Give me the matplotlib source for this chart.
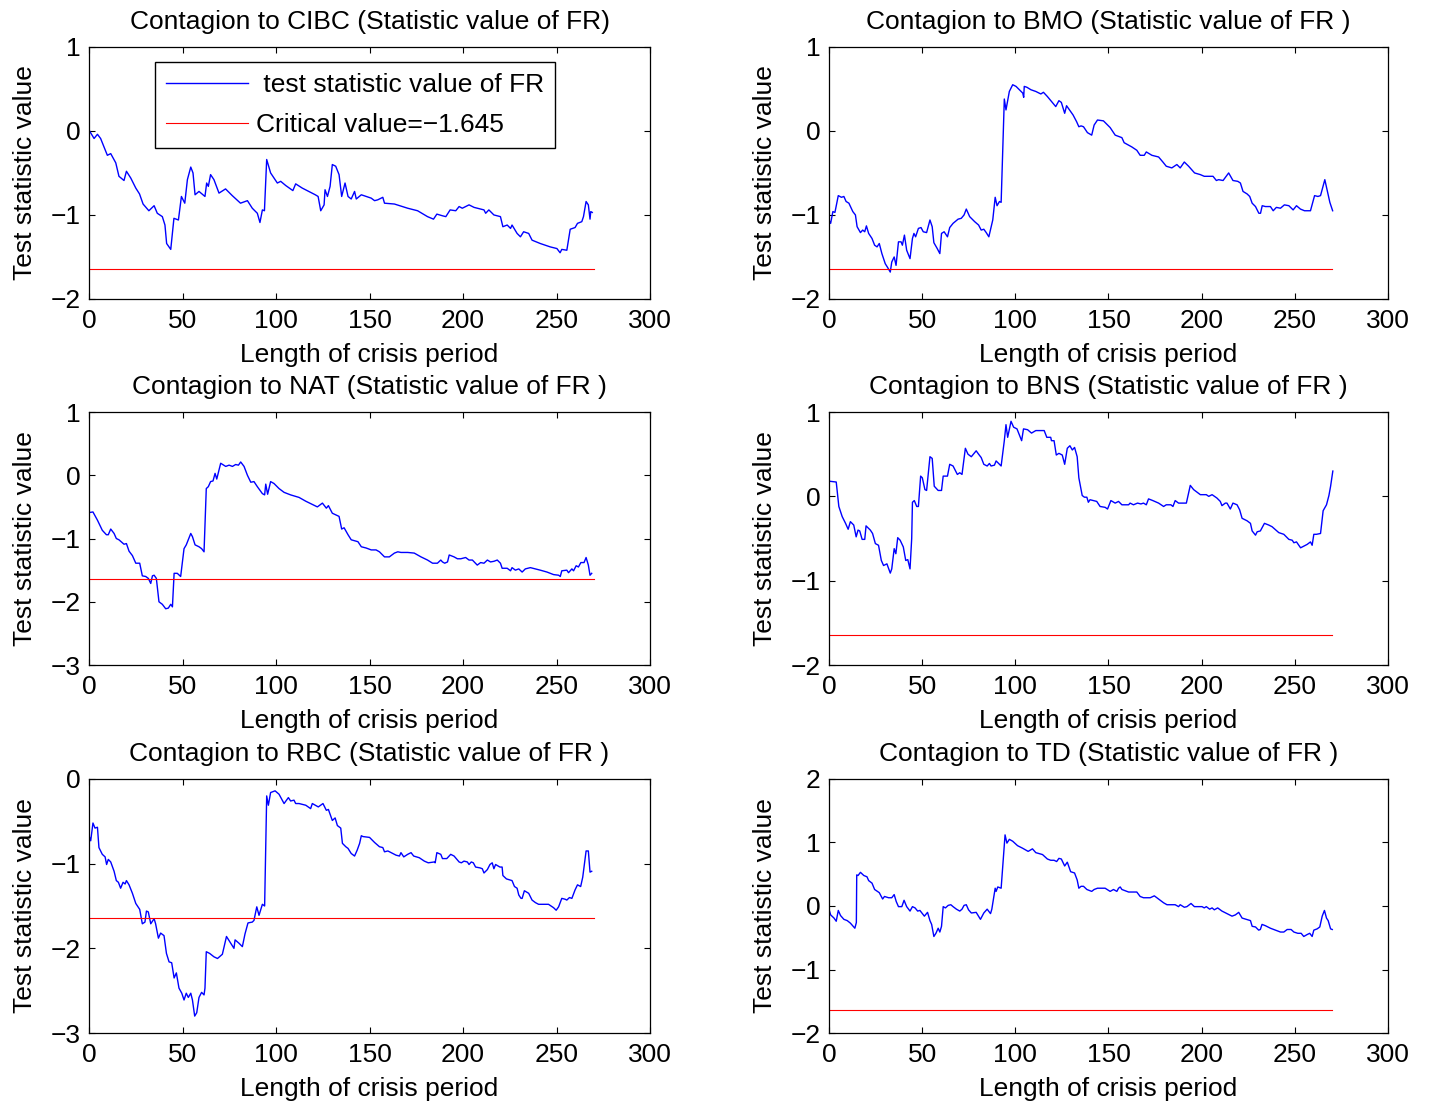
import matplotlib
matplotlib.use('Agg')
import matplotlib.pyplot as plt

plt.rcParams['font.family'] = ['Liberation Sans', 'DejaVu Sans']

# readings: crisis-period length and test statistic per bank
cibc_x = [0, 2.7, 4.5, 6.2, 9.8, 11.6, 14.3, 16, 18.7, 20, 22.3, 25, 27, 28.9, 32, 34.8, 36.5, 39.2, 40.6, 41.5,
          43.7, 45.4, 47.8, 49.4, 51.2, 52.6, 54.4, 55.6, 56.7, 58.8, 62, 62.9, 63.8, 65, 66.8, 69.5, 73, 76.6, 81, 84.7,
          87.3, 90, 91.4, 92.7, 93.8, 95, 97.1, 100.7, 102.5, 105.2, 109, 110.5, 114, 121, 122.5, 123.9, 125.7, 126.2, 127.5, 128.9,
          130.1, 131.9, 133.7, 135.1, 136.9, 138.5, 140.2, 142, 142.9, 145.6, 150.9, 152.7, 154.4, 157.1, 158, 163.3, 170.4, 175.7, 181, 184.2,
          186, 189, 190.8, 193.1, 196.1, 197.9, 199.6, 203.2, 205.9, 211.2, 212.1, 213.8, 216.5, 220, 221.3, 223.6, 225.4, 226.2, 228.9, 230.7,
          232.4, 235.1, 236.9, 241.3, 246.6, 250.2, 251.9, 252.8, 255.5, 257.3, 259.9, 261.2, 263.5, 264.4, 265.8, 267, 267.9, 268.3, 269.1]
cibc_y = [0.01, -0.09, -0.04, -0.09, -0.29, -0.27, -0.38, -0.54, -0.59, -0.48, -0.56, -0.68, -0.75, -0.87, -0.95, -0.89, -0.98, -1.02, -1.12, -1.34,
          -1.41, -1.04, -1.06, -0.78, -0.86, -0.58, -0.43, -0.50, -0.76, -0.72, -0.78, -0.62, -0.66, -0.52, -0.58, -0.74, -0.69, -0.77, -0.86, -0.83,
          -0.92, -0.98, -1.09, -0.94, -0.95, -0.34, -0.50, -0.62, -0.60, -0.65, -0.71, -0.63, -0.68, -0.76, -0.78, -0.95, -0.88, -0.70, -0.78, -0.66,
          -0.40, -0.42, -0.52, -0.78, -0.62, -0.78, -0.81, -0.72, -0.81, -0.76, -0.80, -0.83, -0.82, -0.79, -0.86, -0.87, -0.92, -0.95, -1.02, -1.05,
          -0.99, -1.01, -1.02, -0.94, -0.95, -0.90, -0.92, -0.88, -0.91, -0.94, -0.98, -0.94, -1.00, -1.02, -1.14, -1.12, -1.16, -1.12, -1.22, -1.26,
          -1.20, -1.22, -1.30, -1.34, -1.38, -1.40, -1.45, -1.41, -1.42, -1.17, -1.15, -1.10, -1.08, -1.02, -0.84, -0.88, -1.05, -0.96, -0.97]

bmo_x = [0, 0.9, 2.1, 3.2, 5, 6.7, 8, 9.2, 10.7, 12.8, 14.2, 15.1, 16.9, 18.1, 19.2, 20.1, 21.3, 23.1, 24.5, 25.8,
         27, 28.4, 30.2, 31.6, 32.9, 33.7, 35, 36, 37.3, 38.7, 39.4, 40.5, 41.7, 43.5, 44.8, 45.6, 46.5, 48, 49.4, 50.6,
         52.4, 54.2, 55.4, 56.3, 58.1, 59.5, 60.4, 61.8, 63.6, 64.8, 66.6, 69.3, 71, 72.5, 73.7, 75.5, 78.2, 80.3, 81.7, 83.1,
         84.4, 85.8, 87.9, 89.2, 90.2, 91.5, 92.4, 94.1, 95, 96.8, 98.6, 100.4, 104, 104.5, 104.8, 106.2, 108.4, 111, 113.7, 115.1,
         117.2, 121.7, 123.4, 124.7, 126.5, 127.5, 129.7, 131, 132.9, 134.1, 135.3, 136.6, 138.7, 141, 142.3, 144.1, 147.3, 150.9, 153.6, 157.2,
         158.4, 162.5, 165.2, 167, 169.2, 170.3, 173.3, 176.9, 179.2, 181, 184, 186.7, 188.5, 190.7, 193, 196.2, 199.3, 201.4, 206.1, 207.9,
         209.1, 211.5, 214.5, 216.8, 219.4, 220.8, 222.2, 224.4, 225.8, 227.1, 228.9, 230.7, 231.6, 232.5, 234.2, 236.9, 238.4, 240.1, 242.3, 244.4,
         246.8, 249.1, 250.9, 253, 255.2, 258.4, 260.6, 262.4, 263.8, 266.1, 267.7, 268.8, 270.3]
bmo_y = [-1.06, -1.10, -0.96, -0.97, -0.77, -0.79, -0.78, -0.84, -0.86, -0.96, -1.00, -1.14, -1.21, -1.18, -1.20, -1.13, -1.22, -1.28, -1.36, -1.38,
         -1.34, -1.46, -1.58, -1.63, -1.68, -1.56, -1.50, -1.60, -1.32, -1.32, -1.36, -1.24, -1.42, -1.52, -1.28, -1.22, -1.26, -1.16, -1.15, -1.20,
         -1.21, -1.06, -1.14, -1.33, -1.40, -1.46, -1.22, -1.20, -1.26, -1.15, -1.10, -1.05, -1.04, -1.00, -0.93, -1.02, -1.08, -1.12, -1.18, -1.17,
         -1.21, -1.26, -1.06, -0.79, -0.89, -0.84, -0.85, 0.38, 0.25, 0.47, 0.55, 0.53, 0.45, 0.40, 0.53, 0.52, 0.49, 0.47, 0.44, 0.46,
         0.41, 0.29, 0.36, 0.34, 0.21, 0.30, 0.23, 0.19, 0.11, 0.05, 0.06, 0.05, -0.02, -0.05, 0.07, 0.13, 0.12, 0.04, -0.05, -0.08,
         -0.14, -0.19, -0.23, -0.29, -0.29, -0.25, -0.29, -0.31, -0.37, -0.42, -0.44, -0.40, -0.44, -0.37, -0.42, -0.50, -0.52, -0.54, -0.54, -0.59,
         -0.58, -0.59, -0.50, -0.59, -0.60, -0.62, -0.72, -0.75, -0.78, -0.86, -0.90, -0.98, -0.98, -0.89, -0.90, -0.90, -0.95, -0.91, -0.92, -0.88,
         -0.89, -0.94, -0.89, -0.93, -0.95, -0.95, -0.77, -0.78, -0.77, -0.58, -0.74, -0.85, -0.95]

nat_x = [0, 2.1, 4.5, 7.1, 9.3, 10.3, 11.6, 13.4, 14.6, 16, 17.5, 18.7, 20, 21.4, 23.2, 25, 27.1, 28.5, 30.3, 31.7,
         33, 33.9, 34.8, 36, 37.4, 39.2, 41, 42.4, 43.7, 44.6, 45.5, 47.2, 49, 50.8, 52, 54.4, 55.3, 56.7, 58.8, 60.2,
         61.5, 62.7, 63.8, 65, 66.3, 67.4, 68.3, 70.4, 73.1, 74.9, 76.7, 78.4, 79.9, 81.1, 82.9, 84.7, 86.5, 88.2, 90, 92.7,
         93.9, 94.5, 95.5, 97.1, 98.9, 101.6, 104.3, 107.8, 112.3, 115.9, 119.4, 122.1, 124.8, 126.9, 128, 130.1, 133.7, 135.1, 136.4, 138.5,
         140.2, 143.8, 145.6, 148.2, 150.9, 153.5, 155.3, 158, 160.6, 163.3, 165.1, 166.8, 170.4, 173.9, 177.5, 181, 183.7, 186.3, 188.1, 189,
         190.2, 191.7, 192.6, 195.2, 197, 198.8, 201.4, 203.2, 205, 207.6, 209.4, 211.2, 213, 214.7, 216.5, 218.3, 220, 220.9, 223.6, 225.4,
         226.2, 228, 229.8, 231.6, 233.3, 236, 238.7, 241.3, 244.9, 248.4, 251.1, 252, 252.8, 255.5, 256.4, 258.2, 259.1, 260.5, 261.7, 263,
         264.7, 265.8, 267, 267.9, 268.8]
nat_y = [-0.59, -0.58, -0.71, -0.87, -0.94, -0.94, -0.85, -0.92, -1.00, -1.02, -1.06, -1.09, -1.08, -1.20, -1.27, -1.39, -1.39, -1.59, -1.60, -1.63,
         -1.71, -1.59, -1.58, -1.63, -2.00, -2.04, -2.11, -2.10, -2.04, -2.08, -1.55, -1.55, -1.60, -1.16, -1.10, -0.92, -0.97, -1.10, -1.13, -1.16,
         -1.21, -0.21, -0.18, -0.10, -0.09, 0.03, -0.06, 0.19, 0.14, 0.16, 0.14, 0.17, 0.16, 0.21, 0.14, 0.00, -0.11, -0.10, -0.18, -0.29,
         -0.31, -0.14, -0.30, -0.10, -0.13, -0.21, -0.27, -0.31, -0.35, -0.41, -0.46, -0.50, -0.44, -0.52, -0.48, -0.60, -0.65, -0.85, -0.83, -0.94,
         -1.02, -1.05, -1.13, -1.15, -1.18, -1.18, -1.21, -1.29, -1.29, -1.23, -1.21, -1.22, -1.22, -1.23, -1.29, -1.34, -1.39, -1.39, -1.34, -1.37,
         -1.39, -1.37, -1.26, -1.29, -1.32, -1.32, -1.30, -1.34, -1.34, -1.42, -1.38, -1.39, -1.34, -1.37, -1.36, -1.34, -1.39, -1.47, -1.47, -1.51,
         -1.46, -1.50, -1.48, -1.53, -1.48, -1.46, -1.48, -1.50, -1.53, -1.57, -1.58, -1.60, -1.51, -1.50, -1.54, -1.48, -1.51, -1.43, -1.45, -1.38,
         -1.38, -1.30, -1.42, -1.58, -1.55]

bns_x = [0, 3.9, 5.3, 7.1, 8.9, 10.3, 11.5, 13.3, 14.6, 15.6, 16.5, 17.8, 19.2, 19.9, 22.2, 23.4, 24.9, 26.6, 28.1, 29.3,
         31.1, 32.9, 33.7, 35, 35.9, 36.9, 38.2, 39.9, 41.2, 42.3, 43.5, 44.4, 44.8, 45.8, 47.1, 48, 49.2, 50.1, 51.5, 52.4,
         54.2, 55.4, 56.5, 58.6, 60.4, 61.3, 63.6, 64.8, 66.6, 68.9, 70.2, 71.4, 73.2, 74.6, 76.4, 79, 80.3, 81.7, 83.1, 84.9,
         86.1, 87, 88.8, 89.7, 92.4, 94.1, 95, 95.9, 97.7, 99.1, 100.9, 103.4, 104.4, 106.6, 108.7, 111, 115.5, 116.9, 119, 119.4,
         120.8, 122, 123.4, 125.2, 126.5, 127.9, 129.3, 130.6, 131.8, 133.2, 134.1, 135.9, 137.1, 138.4, 139.2, 140.1, 141.9, 143.7, 145.5, 148.2,
         149.5, 151.3, 153.6, 155.4, 157.2, 160.8, 161.6, 163.4, 165.6, 167.4, 168.8, 170.3, 171.5, 173.8, 176.9, 179.6, 181, 183.5, 184.6, 185.8,
         187.6, 191.8, 193.9, 195.7, 197.5, 199.3, 202.5, 203.8, 205.6, 208.2, 210, 210.9, 212.7, 213.6, 215.4, 216.8, 219, 220.4, 221.7, 224.4,
         226.2, 227.1, 228.9, 229.8, 231.5, 233.7, 236, 237.8, 241.4, 244.1, 246.8, 248.6, 249.5, 250.9, 253.1, 254.8, 256.6, 258.4, 259.3, 260.2,
         261.6, 263.8, 265.2, 267, 268.3, 269.2, 270.4]
bns_y = [0.18, 0.17, -0.12, -0.24, -0.32, -0.39, -0.30, -0.34, -0.48, -0.40, -0.41, -0.51, -0.51, -0.35, -0.40, -0.44, -0.56, -0.58, -0.76, -0.82,
         -0.80, -0.91, -0.86, -0.62, -0.68, -0.49, -0.52, -0.60, -0.76, -0.75, -0.86, -0.50, -0.07, -0.05, -0.12, -0.12, 0.24, 0.22, 0.08, 0.07,
         0.47, 0.45, 0.12, 0.07, 0.07, 0.24, 0.24, 0.38, 0.36, 0.26, 0.28, 0.26, 0.57, 0.50, 0.47, 0.54, 0.50, 0.46, 0.38, 0.36,
         0.39, 0.36, 0.37, 0.42, 0.36, 0.66, 0.85, 0.70, 0.89, 0.82, 0.80, 0.66, 0.80, 0.79, 0.75, 0.78, 0.78, 0.70, 0.70, 0.66,
         0.66, 0.49, 0.51, 0.49, 0.38, 0.57, 0.60, 0.55, 0.58, 0.47, 0.22, 0.01, -0.01, -0.01, -0.07, -0.04, -0.05, -0.06, -0.12, -0.13,
         -0.15, -0.05, -0.08, -0.06, -0.10, -0.10, -0.08, -0.10, -0.08, -0.09, -0.08, -0.10, -0.03, -0.05, -0.08, -0.12, -0.10, -0.10, -0.12, -0.05,
         -0.08, -0.08, 0.13, 0.08, 0.05, 0.02, 0.02, 0.00, 0.02, -0.02, -0.06, -0.11, -0.08, -0.08, -0.15, -0.08, -0.10, -0.16, -0.26, -0.29,
         -0.32, -0.41, -0.46, -0.42, -0.41, -0.32, -0.34, -0.36, -0.43, -0.45, -0.51, -0.52, -0.55, -0.54, -0.61, -0.59, -0.57, -0.54, -0.58, -0.45,
         -0.45, -0.44, -0.17, -0.10, 0.01, 0.12, 0.30]

rbc_x = [0, 0.9, 2.1, 3.2, 4.5, 5.3, 7.1, 8.6, 9.4, 10.3, 11.6, 13.4, 14.6, 15.7, 16.9, 18.2, 19.3, 20, 21.4, 23.2,
         25, 27.1, 28.5, 29.9, 30.7, 31.7, 33, 34.8, 35.6, 37.1, 38.3, 40.1, 41.4, 42.8, 44.2, 45.5, 46.7, 48.1, 49.6, 50.8,
         52, 53.1, 54.4, 55.3, 56.5, 57.6, 58.8, 60.2, 61.5, 62, 62.7, 64.5, 66.8, 68.7, 71.3, 73.5, 75.2, 77.5, 78.1, 80.2,
         82, 83.4, 85, 87.3, 88.2, 89.7, 90.9, 92.7, 93.9, 95, 95.9, 97.1, 99.5, 101.6, 104.3, 106.6, 107.8, 109.6, 110.5, 112.3,
         115.9, 118.5, 119.4, 122.6, 125.1, 126.9, 128, 130.1, 131.6, 132.8, 134.6, 135.5, 137.3, 138.5, 140.2, 142, 143.4, 144.7, 145.6, 146.5,
         150, 152.7, 155.3, 157.1, 158, 159.8, 162.4, 164.2, 166, 166.8, 168.3, 170.4, 172.2, 173.6, 176.6, 179.3, 181.4, 184.6, 185.1, 186,
         188.1, 189, 191.3, 193.4, 195.2, 197.9, 199.1, 200.5, 202.3, 203.2, 204.4, 205.5, 206.7, 209.1, 210.3, 211.2, 213, 214.4, 215.6, 216.5,
         217.4, 219.7, 220.9, 221.3, 223.2, 226.2, 227.5, 228.9, 229.8, 231, 231.6, 232.8, 235.1, 236.9, 238.7, 240.4, 245.7, 248.4, 249.8, 251.1,
         252.8, 254.6, 255.5, 256.9, 258.2, 259.9, 261.2, 262.9, 264, 265.8, 267, 267.9, 268.8]
rbc_y = [-0.67, -0.73, -0.52, -0.58, -0.57, -0.81, -0.89, -0.92, -1.01, -0.95, -0.98, -1.09, -1.20, -1.22, -1.29, -1.22, -1.24, -1.20, -1.25, -1.35,
         -1.47, -1.54, -1.71, -1.69, -1.56, -1.57, -1.71, -1.65, -1.71, -1.88, -1.82, -1.85, -2.06, -2.16, -2.17, -2.35, -2.29, -2.47, -2.53, -2.61,
         -2.53, -2.58, -2.53, -2.61, -2.80, -2.76, -2.58, -2.52, -2.55, -2.47, -2.04, -2.06, -2.10, -2.12, -2.07, -1.86, -1.92, -2.00, -1.90, -1.94,
         -1.98, -1.83, -1.70, -1.69, -1.67, -1.51, -1.61, -1.48, -1.50, -0.20, -0.31, -0.16, -0.14, -0.18, -0.29, -0.22, -0.26, -0.25, -0.29, -0.29,
         -0.31, -0.35, -0.29, -0.33, -0.29, -0.37, -0.36, -0.49, -0.46, -0.55, -0.58, -0.76, -0.80, -0.82, -0.88, -0.91, -0.84, -0.76, -0.67, -0.68,
         -0.69, -0.75, -0.80, -0.81, -0.86, -0.85, -0.88, -0.90, -0.91, -0.87, -0.92, -0.89, -0.87, -0.91, -0.93, -0.97, -0.99, -0.98, -0.99, -0.87,
         -0.89, -0.94, -0.94, -0.89, -0.91, -0.98, -0.99, -0.97, -0.98, -1.01, -0.98, -0.99, -1.04, -1.05, -1.06, -1.11, -1.07, -1.01, -0.99, -1.06,
         -1.01, -1.04, -1.04, -1.14, -1.18, -1.20, -1.27, -1.29, -1.37, -1.41, -1.41, -1.32, -1.35, -1.43, -1.46, -1.48, -1.48, -1.52, -1.55, -1.51,
         -1.41, -1.42, -1.43, -1.40, -1.41, -1.31, -1.25, -1.27, -1.16, -0.85, -0.85, -1.10, -1.09]

td_x = [0, 0.9, 2.7, 3.9, 5, 6.2, 8, 9.8, 11.5, 13.9, 14.7, 14.9, 15.6, 16.9, 18.7, 20.4, 21.3, 23.1, 24.5, 27,
        28.8, 29.8, 32, 33.7, 35, 36.1, 37.3, 39.1, 40.3, 41.7, 43.5, 44.8, 46.2, 47.6, 48.8, 51.2, 52.9, 54.2, 55.1, 56.3,
        57.4, 58.6, 59.5, 60.4, 61.3, 62.5, 64, 65.4, 66.6, 68.4, 70.2, 71.4, 72.5, 73.7, 74.9, 76.4, 79, 81.3, 83.1, 84.9,
        86.7, 87.4, 89.2, 89.7, 90.6, 92.4, 93.8, 94.5, 95.5, 96.8, 98.6, 101.2, 103.9, 106.9, 109.2, 111, 114.6, 117.2, 119, 120.8,
        122.2, 123.4, 124.7, 126.5, 127.9, 129.7, 131.8, 133.2, 134.1, 135.3, 136.6, 138.4, 141, 142.3, 144.1, 148.2, 150.9, 152.7, 154.5, 155.4,
        156.3, 157.2, 160.8, 165.2, 167, 168.8, 172.4, 174.6, 176.9, 179.6, 181.4, 185.8, 187.6, 188.5, 190.7, 192.1, 194.3, 196.1, 200.2, 201.4,
        202.5, 204.3, 205.6, 206.8, 208.6, 210.9, 213.6, 216.3, 218.1, 219.9, 221.7, 224, 226.2, 227.1, 228.9, 230.6, 231.5, 232.4, 234.2, 236.9,
        239.6, 242.3, 244.1, 245.9, 248, 249.5, 251.6, 253.4, 254.8, 256.6, 258, 259.3, 260.2, 262, 263.4, 264.7, 265.9, 267, 267.9, 269.2,
        270.1]
td_y = [-0.05, -0.14, -0.19, -0.24, -0.07, -0.15, -0.21, -0.23, -0.27, -0.35, -0.26, 0.49, 0.48, 0.53, 0.48, 0.46, 0.40, 0.36, 0.26, 0.21,
        0.11, 0.15, 0.13, 0.13, 0.18, 0.07, -0.01, -0.01, 0.09, -0.01, -0.08, -0.01, -0.03, -0.08, -0.07, -0.16, -0.10, -0.23, -0.29, -0.48,
        -0.43, -0.35, -0.41, -0.32, -0.01, -0.03, 0.01, 0.02, -0.01, -0.05, -0.08, -0.05, 0.01, 0.02, -0.06, -0.11, -0.10, -0.21, -0.11, -0.05,
        -0.12, -0.05, 0.28, 0.23, 0.30, 0.28, 0.83, 1.12, 0.99, 1.05, 1.02, 0.95, 0.91, 0.86, 0.90, 0.84, 0.81, 0.74, 0.72, 0.72,
        0.70, 0.75, 0.74, 0.63, 0.69, 0.54, 0.52, 0.41, 0.28, 0.31, 0.31, 0.26, 0.23, 0.26, 0.28, 0.28, 0.23, 0.26, 0.23, 0.28,
        0.30, 0.26, 0.22, 0.22, 0.15, 0.13, 0.13, 0.16, 0.11, 0.05, 0.02, 0.02, -0.01, 0.02, -0.02, -0.01, 0.04, -0.01, -0.01, -0.03,
        -0.01, -0.05, -0.03, -0.06, -0.03, -0.08, -0.12, -0.16, -0.14, -0.10, -0.19, -0.21, -0.23, -0.32, -0.33, -0.38, -0.37, -0.29, -0.31, -0.35,
        -0.38, -0.41, -0.41, -0.37, -0.37, -0.41, -0.43, -0.43, -0.48, -0.45, -0.43, -0.48, -0.38, -0.36, -0.33, -0.16, -0.07, -0.19, -0.23, -0.36,
        -0.37]

banks = ['CIBC', 'BMO', 'NAT', 'BNS', 'RBC', 'TD']
series = [(cibc_x, cibc_y), (bmo_x, bmo_y), (nat_x, nat_y), (bns_x, bns_y), (rbc_x, rbc_y), (td_x, td_y)]
ylims = [(-2, 1), (-2, 1), (-3, 1), (-2, 1), (-3, 0), (-2, 2)]
critical = -1.645
crit_x = [0, 270]

FS = 19

fig = plt.figure(figsize=(14.29, 11.04), dpi=100)

# axes boxes in figure fractions (left, bottom, width, height)
col_left = [0.0623, 0.5801]
col_w = [0.3926, 0.3912]
row_bottom = [0.7292, 0.3976, 0.0643]
row_h = [0.2283, 0.2292, 0.2301]

for i, bank in enumerate(banks):
    r, c = divmod(i, 2)
    ax = fig.add_axes([col_left[c], row_bottom[r], col_w[c], row_h[r]])
    x, y = series[i]
    ax.plot(x, y, color='b', lw=1.0, label=' test statistic value of FR')
    ax.plot(crit_x, [critical, critical], color='r', lw=0.8,
            label='Critical value=\u22121.645')

    ax.set_xlim(0, 300)
    ax.set_xticks(range(0, 301, 50))
    lo, hi = ylims[i]
    ax.set_ylim(lo, hi)
    ax.set_yticks(range(lo, hi + 1))

    ax.tick_params(direction='in', top=True, right=True, length=4,
                   width=0.8, labelsize=FS)
    ax.tick_params(axis='x', pad=7.5)
    ax.tick_params(axis='y', pad=6)
    for s in ax.spines.values():
        s.set_linewidth(0.9)

    if i == 0:
        ax.set_title('Contagion to CIBC (Statistic value of FR)', fontsize=FS, pad=13)
        ax.legend(loc='upper left', bbox_to_anchor=(0.1176, 0.94), fontsize=FS,
                  frameon=True, fancybox=False, edgecolor='black', framealpha=1,
                  handlelength=3.1, borderaxespad=0, borderpad=0.42,
                  labelspacing=0.6, handletextpad=0.3)
    else:
        ax.set_title('Contagion to %s (Statistic value of FR )' % bank, fontsize=FS, pad=13)
    ax.set_xlabel('Length of crisis period', fontsize=FS, labelpad=7)
    ax.set_ylabel('Test statistic value', fontsize=FS, labelpad=10)

fig.savefig('out.png', dpi=100)
